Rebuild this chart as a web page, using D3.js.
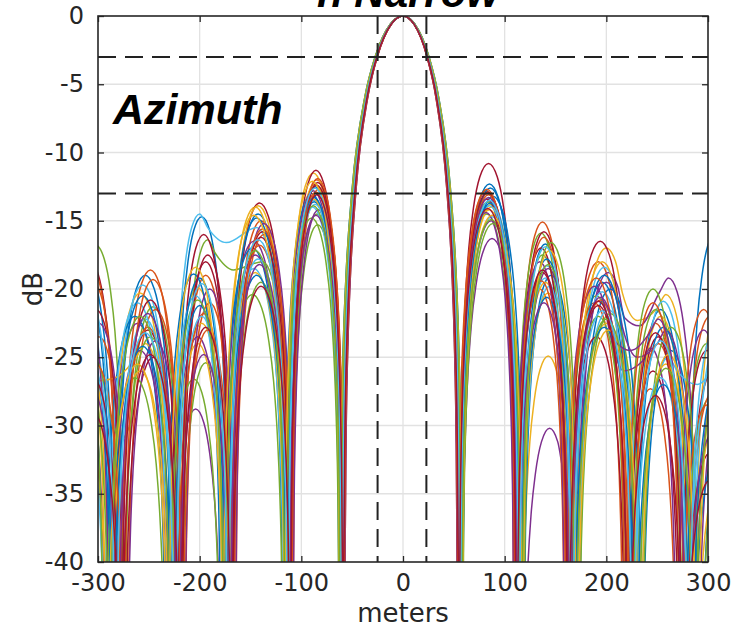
<!DOCTYPE html>
<html>
<head>
<meta charset="utf-8">
<script src="https://cdn.jsdelivr.net/npm/d3@7"></script>
<style>
    body { margin: 0; background: #fff; }
    svg { display: block; }
    .tick-label { font-family: "DejaVu Sans", sans-serif; font-size: 24px; fill: #262626; }
</style>
</head>
<body>
<div id="chart"></div>
<script>
// axis ticks
const xTicks = [-300, -200, -100, 0, 100, 200, 300];
const yTicks = [0, -5, -10, -15, -20, -25, -30, -35, -40];

// reference lines (dashed)
const halfPowerX = [-25, 23];
const levelLines = [-3, -13];

// null positions (meters), shared by all cuts
const nulls = [-340, -283, -224, -172, -113, -60, 56, 114, 166, 226, 281, 335];

// sidelobe profile: fraction across lobe, dB below lobe peak
const sideT    = [0.01, 0.03, 0.06, 0.1, 0.16, 0.24, 0.35, 0.5, 0.65, 0.76, 0.84, 0.9, 0.94, 0.97, 0.99];
const sideDrop = [-30, -20.5, -14.5, -10.2, -6.3, -3.3, -1.0, 0, -1.0, -3.3, -6.3, -10.2, -14.5, -20.5, -30];

// main lobe profile: fraction of half width, dB
const mainU  = [0.99, 0.97, 0.94, 0.9, 0.8, 0.6, 0.44, 0.2, 0];
const mainDB = [-39.9, -30.2, -23.9, -19.2, -12.6, -5.9, -3.0, -0.6, 0];

// sidelobe peaks per cut: [edgeL, L2, L3, L4, L5, R1, R2, R3, R4, edgeR]
const sidelobes = [
    [-18.5, -19.0, -14.7, -14.5, -12.5, -12.3, -16.7, -19.5, -21.5, -15.8],
    [-19.5, -18.6, -19.0, -15.0, -12.0, -13.0, -15.1, -18.0, -22.5, -22.0],
    [-22.0, -20.3, -19.9, -14.0, -11.5, -13.8, -24.9, -17.0, -20.4, -20.1],
    [-24.0, -22.5, -28.8, -16.5, -13.2, -16.3, -30.2, -18.8, -19.2, -27.0],
    [-16.8, -21.3, -16.4, -18.0, -15.3, -14.5, -15.9, -20.5, -20.0, -24.0],
    [-21.0, -19.7, -14.5, -15.5, -13.5, -13.5, -18.3, -18.4, -20.9, -23.5],
    [-17.9, -23.0, -16.0, -13.7, -11.3, -10.8, -15.8, -16.5, -23.5, -26.0],
    [-20.5, -22.0, -18.9, -17.0, -13.0, -13.2, -19.0, -20.0, -24.5, -29.0],
    [-23.5, -21.5, -21.0, -16.0, -12.7, -12.8, -20.0, -21.0, -27.3, -21.5],
    [-26.0, -24.0, -22.5, -13.9, -12.3, -14.2, -19.5, -18.0, -22.0, -30.0],
    [-19.5, -24.5, -23.5, -17.5, -12.8, -15.0, -18.5, -19.5, -23.0, -25.5],
    [-25.0, -23.5, -25.4, -19.5, -14.5, -13.6, -17.5, -22.0, -21.5, -28.0],
    [-27.5, -21.0, -20.5, -18.5, -14.0, -14.7, -19.8, -21.5, -25.0, -22.5],
    [-21.5, -25.0, -17.5, -15.8, -12.2, -13.4, -17.0, -23.5, -26.0, -24.5],
    [-23.0, -20.5, -19.2, -14.8, -13.6, -12.6, -17.8, -19.0, -22.8, -31.5],
    [-18.2, -22.8, -21.8, -16.8, -12.9, -13.1, -16.2, -20.8, -24.0, -27.5],
    [-28.5, -26.0, -24.0, -18.8, -13.4, -14.0, -20.3, -22.5, -25.5, -33.0],
    [-22.5, -23.8, -20.0, -15.2, -14.2, -14.4, -18.0, -19.8, -24.3, -23.0],
    [-20.0, -26.5, -26.6, -20.4, -14.8, -15.2, -16.6, -21.8, -22.8, -29.5],
    [-24.5, -22.2, -22.0, -17.8, -13.8, -13.9, -19.2, -20.2, -26.5, -25.0],
    [-26.5, -20.8, -18.0, -16.2, -12.4, -12.9, -18.8, -21.2, -23.2, -32.0],
    [-19.0, -24.2, -21.2, -19.0, -13.3, -13.7, -20.6, -22.8, -27.0, -26.5],
    [-25.5, -19.3, -23.0, -15.6, -11.9, -12.7, -19.4, -19.2, -21.0, -28.5],
    [-21.2, -25.5, -18.4, -14.6, -12.1, -14.6, -17.2, -23.0, -24.8, -24.0],
    [-27.0, -21.8, -24.8, -18.2, -14.6, -13.3, -21.0, -20.6, -22.2, -30.5],
    [-23.8, -22.0, -20.8, -17.2, -13.9, -14.9, -18.2, -22.2, -25.8, -26.0],
    [-20.2, -23.2, -19.6, -16.4, -12.6, -13.5, -16.9, -21.6, -23.8, -22.8],
    [-29.0, -24.8, -22.8, -19.8, -13.1, -14.1, -18.6, -20.9, -27.8, -34.0]
];

// width scale of each cut
const stretch = [1.00, 0.98, 1.02, 1.03, 0.97, 1.01, 0.99, 1.04, 0.96, 1.00, 1.02, 0.98, 1.03, 0.97,
                 1.01, 0.99, 1.02, 0.96, 1.04, 1.00, 0.98, 1.01, 0.97, 1.03, 0.99, 1.02, 1.00, 0.98];

// nulls that do not go deep: [cut, null index, dB]
const filledNulls = [
    [5, 3, -16.6], [4, 3, -18.6], [3, 9, -22.7], [3, 8, -35], [2, 9, -22.3],
    [9, 1, -26.5], [10, 9, -25], [17, 9, -26], [24, 9, -24.5], [11, 1, -31], [12, 10, -27]
];

const colors = ['#0072BD', '#D95319', '#EDB120', '#7E2F8E', '#77AC30', '#4DBEEE', '#A2142F'];

// layout
const W = 737, H = 631;
const plot = { left: 98, right: 708, top: 16, bottom: 562 };

const x = d3.scaleLinear().domain([-300, 300]).range([plot.left, plot.right]);
const y = d3.scaleLinear().domain([-40, 0]).range([plot.bottom, plot.top]);

const svg = d3.select('#chart').append('svg')
    .attr('width', W)
    .attr('height', H);

svg.append('defs').append('clipPath').attr('id', 'plot-clip')
    .append('rect')
    .attr('x', plot.left).attr('y', plot.top)
    .attr('width', plot.right - plot.left).attr('height', plot.bottom - plot.top);

// grid
const grid = svg.append('g').attr('class', 'grid');
grid.selectAll('.vgrid').data(xTicks.slice(1, -1)).enter().append('line')
    .attr('x1', d => x(d)).attr('x2', d => x(d))
    .attr('y1', plot.top).attr('y2', plot.bottom)
    .attr('stroke', '#e2e2e2').attr('stroke-width', 1.3);
grid.selectAll('.hgrid').data(yTicks.slice(1, -1)).enter().append('line')
    .attr('x1', plot.left).attr('x2', plot.right)
    .attr('y1', d => y(d)).attr('y2', d => y(d))
    .attr('stroke', '#e2e2e2').attr('stroke-width', 1.3);

// build one cut from its levels
function buildCut(i) {
    const lv = sidelobes[i], s = stretch[i];
    const depth = nulls.map(() => -70);
    filledNulls.filter(f => f[0] === i).forEach(f => { depth[f[1]] = f[2]; });
    const pts = [];
    for (let k = 0; k < nulls.length - 1; k++) {
        const a = nulls[k], b = nulls[k + 1];
        pts.push([a * s, depth[k]]);
        if (k === 5) { // main lobe
            mainU.forEach((u, j) => pts.push([u * a * s, mainDB[j]]));
            for (let j = mainU.length - 2; j >= 0; j--) {
                pts.push([mainU[j] * b * s, mainDB[j]]);
            }
            continue;
        }
        const L = lv[k < 5 ? k : k - 1];
        sideT.forEach((t, j) => {
            const v = L + sideDrop[j];
            const floor = t < 0.5 ? depth[k] : depth[k + 1];
            if (v > floor + 0.5) {
                pts.push([(a + t * (b - a)) * s, v]);
            }
        });
    }
    pts.push([nulls[nulls.length - 1] * s, depth[nulls.length - 1]]);
    return pts;
}

const line = d3.line()
    .x(d => x(d[0]))
    .y(d => y(d[1]))
    .curve(d3.curveMonotoneX);

const curves = svg.append('g').attr('clip-path', 'url(#plot-clip)');
curves.selectAll('path').data(sidelobes.map((d, i) => buildCut(i))).enter().append('path')
    .attr('d', line)
    .attr('fill', 'none')
    .attr('stroke', (d, i) => colors[i % colors.length])
    .attr('stroke-width', 1.5);

// dashed reference lines
const refs = svg.append('g');
refs.selectAll('.hdash').data(levelLines).enter().append('line')
    .attr('x1', plot.left).attr('x2', plot.right)
    .attr('y1', d => y(d)).attr('y2', d => y(d))
    .attr('stroke', '#222').attr('stroke-width', 2)
    .attr('stroke-dasharray', '18,9');
refs.selectAll('.vdash').data(halfPowerX).enter().append('line')
    .attr('x1', d => x(d)).attr('x2', d => x(d))
    .attr('y1', plot.top).attr('y2', plot.bottom)
    .attr('stroke', '#222').attr('stroke-width', 2)
    .attr('stroke-dasharray', '18,9');

// axes (box with inward ticks), plain hyphen minus like the original
const fmt = d => String(d);
const tickLen = 6;
svg.append('g').attr('transform', 'translate(0,' + plot.bottom + ')')
    .call(d3.axisBottom(x).tickValues(xTicks).tickFormat(fmt).tickSizeInner(-tickLen).tickSizeOuter(0).tickPadding(12))
    .call(g => g.selectAll('text').attr('class', 'tick-label').attr('font-size', null).attr('font-family', null));
svg.append('g').attr('transform', 'translate(0,' + plot.top + ')')
    .call(d3.axisTop(x).tickValues(xTicks).tickSizeInner(-tickLen).tickSizeOuter(0).tickFormat(''));
svg.append('g').attr('transform', 'translate(' + plot.left + ',0)')
    .call(d3.axisLeft(y).tickValues(yTicks).tickFormat(fmt).tickSizeInner(-tickLen).tickSizeOuter(0).tickPadding(14))
    .call(g => g.selectAll('text').attr('class', 'tick-label').attr('font-size', null).attr('font-family', null));
svg.append('g').attr('transform', 'translate(' + plot.right + ',0)')
    .call(d3.axisRight(y).tickValues(yTicks).tickSizeInner(-tickLen).tickSizeOuter(0).tickFormat(''));
svg.selectAll('.domain').remove();
svg.selectAll('.tick line').attr('stroke', '#262626').attr('stroke-width', 1.3);

svg.append('rect')
    .attr('x', plot.left).attr('y', plot.top)
    .attr('width', plot.right - plot.left).attr('height', plot.bottom - plot.top)
    .attr('fill', 'none').attr('stroke', '#262626').attr('stroke-width', 1.6);

// labels
svg.append('text')
    .attr('x', (plot.left + plot.right) / 2).attr('y', 622)
    .attr('text-anchor', 'middle')
    .attr('font-family', 'DejaVu Sans, sans-serif').attr('font-size', 26)
    .attr('fill', '#262626')
    .text('meters');

svg.append('text')
    .attr('transform', 'translate(42,' + (plot.top + plot.bottom) / 2 + ') rotate(-90)')
    .attr('text-anchor', 'middle')
    .attr('font-family', 'DejaVu Sans, sans-serif').attr('font-size', 26)
    .attr('fill', '#262626')
    .text('dB');

svg.append('text')
    .attr('x', 113).attr('y', 124)
    .attr('font-family', 'Liberation Sans, Arial, sans-serif')
    .attr('font-weight', 'bold').attr('font-style', 'italic')
    .attr('font-size', 43)
    .attr('fill', '#000')
    .text('Azimuth');

// title: its top is cut by the frame, as in the original
svg.append('text')
    .attr('x', 408).attr('y', 7)
    .attr('text-anchor', 'middle')
    .attr('font-family', 'Liberation Sans, Arial, sans-serif')
    .attr('font-weight', 'bold').attr('font-style', 'italic')
    .attr('font-size', 42)
    .attr('fill', '#000')
    .text('n Narrow');
</script>
</body>
</html>
